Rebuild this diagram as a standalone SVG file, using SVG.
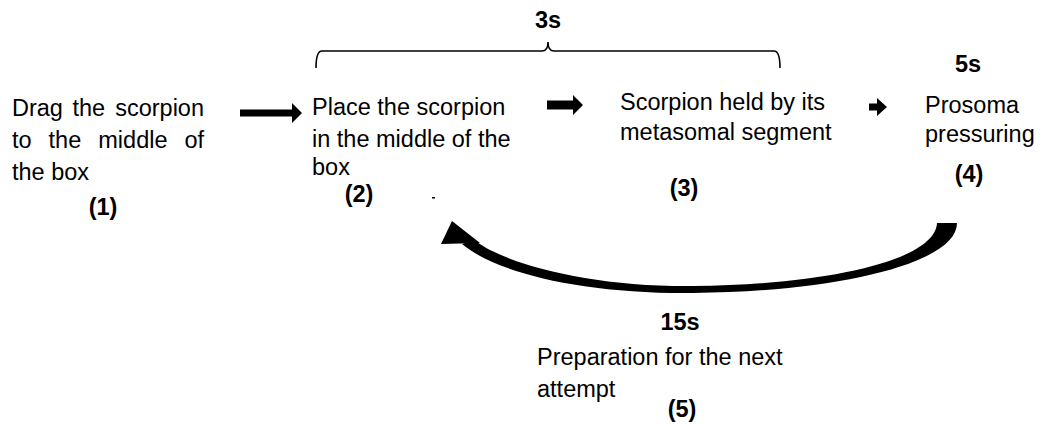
<svg xmlns="http://www.w3.org/2000/svg" width="1040" height="425" viewBox="0 0 1040 425">
<style>
text{font-family:"Liberation Sans",Arial,sans-serif;font-size:23.5px;fill:#000}
.b{font-weight:bold;text-anchor:middle}
.arr{fill:#000}
</style>
<rect width="1040" height="425" fill="#fff"/>
<g id="connectors">
<path d="M316,68 Q316,51 322,51 L542,51 Q548,51 548,42 Q548,51 554,51 L774,51 Q780,51 780,68" fill="none" stroke="#000" stroke-width="1.6"/>
<polygon class="arr" points="240,109.5 292,109.5 292,103 302,113 292,123 292,116.5 240,116.5"/>
<polygon class="arr" points="547,100.5 573,100.5 573,95 583,105 573,115 573,109.5 547,109.5"/>
<polygon class="arr" points="869,103.5 877,103.5 877,98 887,107 877,116 877,110.5 869,110.5"/>
<path class="arr" d="M937,223 L957,223 C957,265 830,292 693,293 C580,294 495,272 462,244 L474,240 C505,264 590,287 693,286 C820,285 935,262 937,223 Z"/>
<polygon class="arr" points="452,221 441,244 480,243"/>
<rect x="432" y="197" width="3" height="1.5" fill="#000"/>
</g>
<g id="node1">
<text y="116"><tspan x="12">Drag</tspan><tspan x="72.5">the</tspan><tspan x="115.2">scorpion</tspan></text>
<text y="148"><tspan x="12">to</tspan><tspan x="48.6">the</tspan><tspan x="98.3">middle</tspan><tspan x="184.5">of</tspan></text>
<text x="12" y="180">the box</text>
<text class="b" x="103" y="215">(1)</text>
</g>
<g id="node2">
<text x="312" y="115">Place the scorpion</text>
<text x="312" y="147">in the middle of the</text>
<text x="312" y="175">box</text>
<text class="b" x="359" y="202">(2)</text>
</g>
<g id="node3">
<text class="b" x="548" y="28">3s</text>
<text x="620" y="110">Scorpion held by its</text>
<text x="620" y="140">metasomal segment</text>
<text class="b" x="684" y="196">(3)</text>
</g>
<g id="node4">
<text class="b" x="968" y="72">5s</text>
<text x="925" y="113">Prosoma</text>
<text x="925" y="142">pressuring</text>
<text class="b" x="969" y="182">(4)</text>
</g>
<g id="node5">
<text class="b" x="680" y="330">15s</text>
<text x="537" y="365">Preparation for the next</text>
<text x="537" y="397">attempt</text>
<text class="b" x="682" y="417">(5)</text>
</g>
</svg>
